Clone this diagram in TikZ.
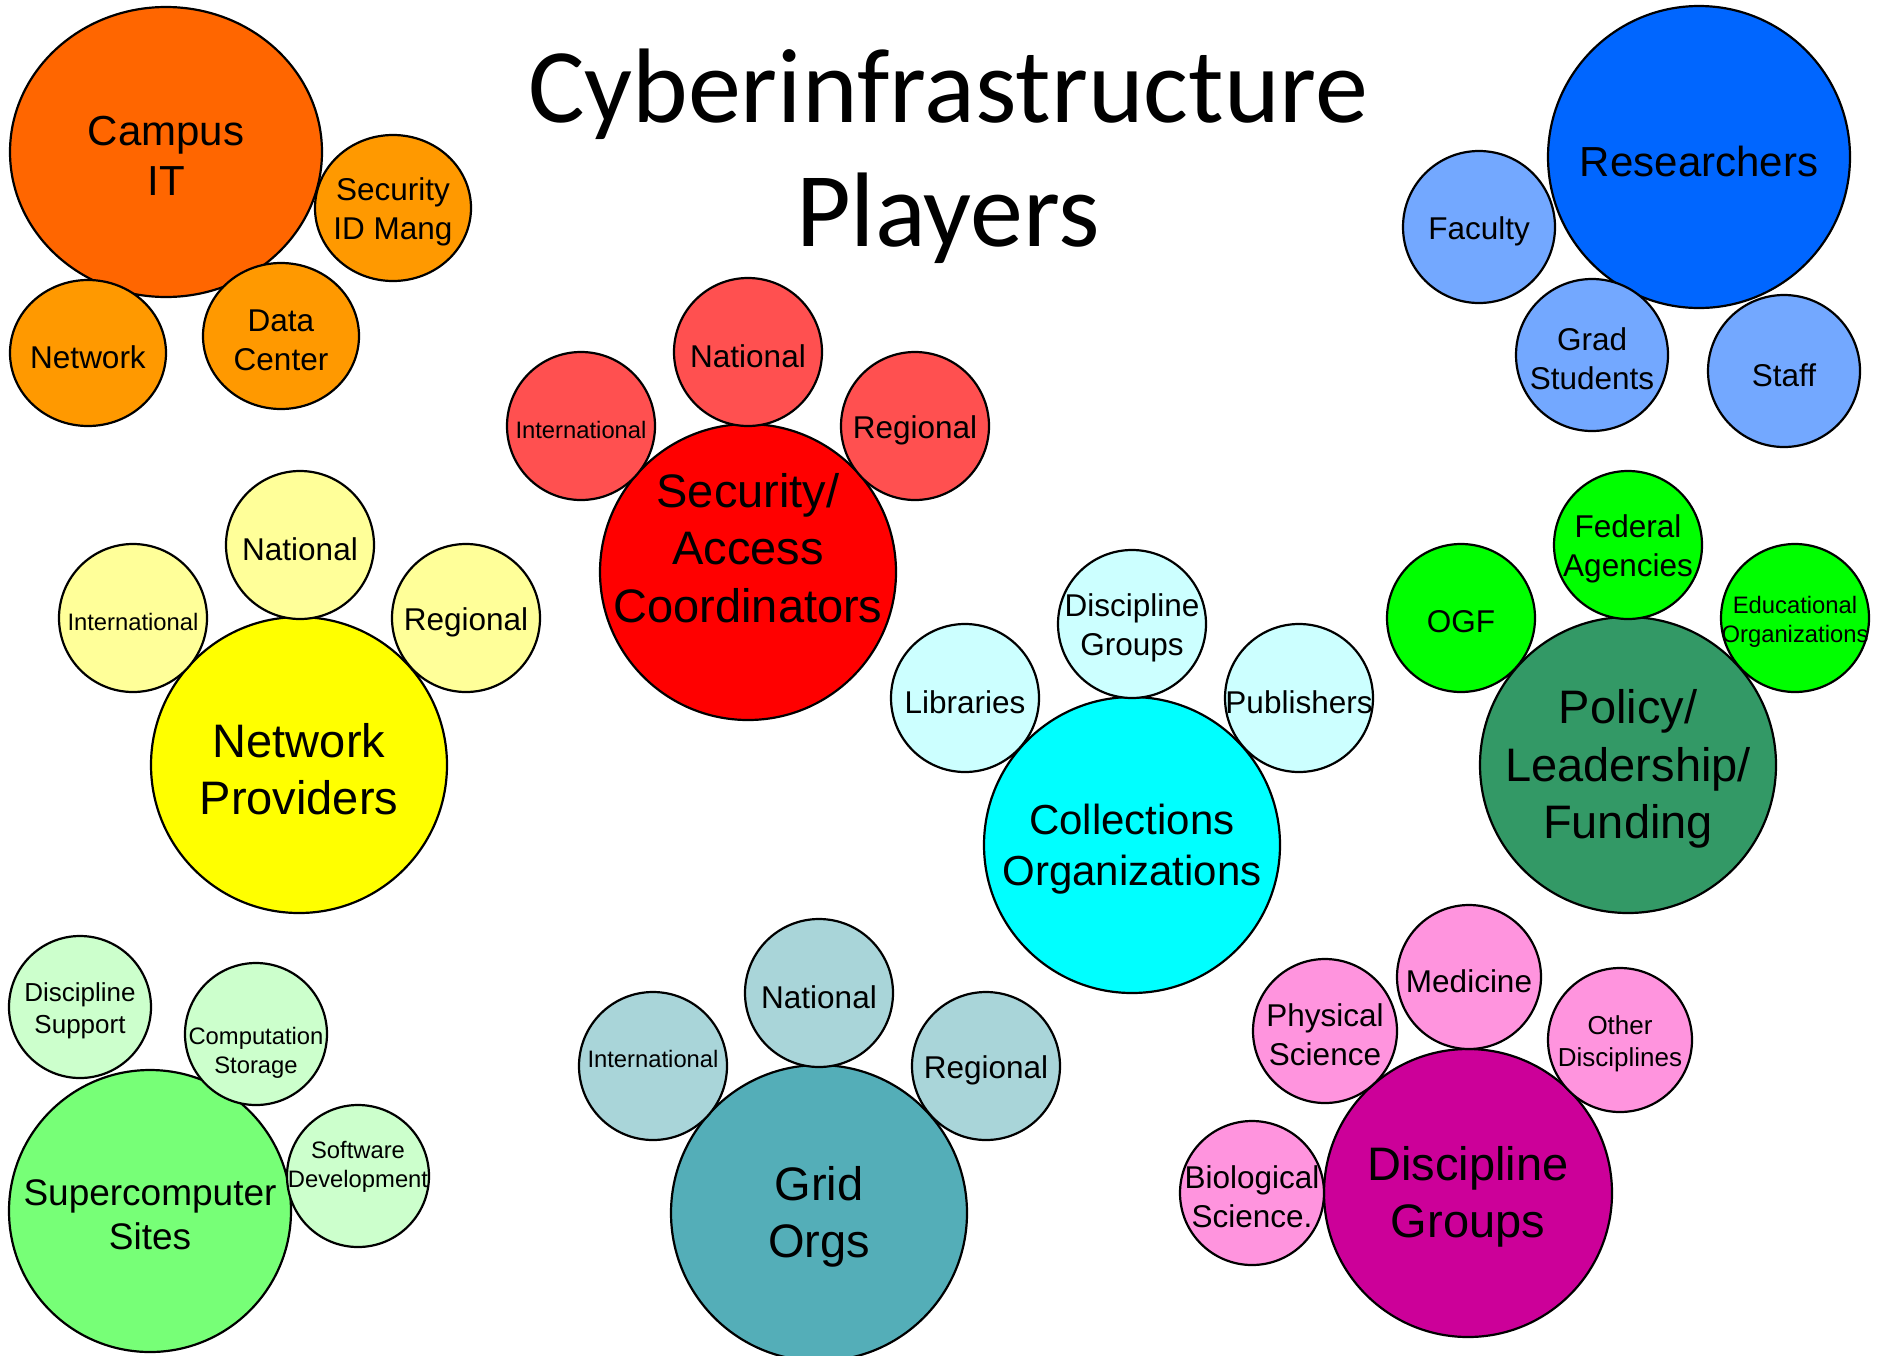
\documentclass[tikz,border=0pt]{standalone}
\usepackage{fontspec}
\setmainfont{Liberation Sans}
\newfontfamily\titlefont{Carlito}
\usetikzlibrary{shapes.geometric}
\definecolor{campusorange}{RGB}{255, 102, 0}
\definecolor{campuslight}{RGB}{255, 153, 0}
\definecolor{resblue}{RGB}{0, 102, 255}
\definecolor{reslight}{RGB}{115, 168, 255}
\definecolor{secred}{RGB}{255, 0, 0}
\definecolor{seclight}{RGB}{255, 80, 80}
\definecolor{netyellow}{RGB}{255, 255, 0}
\definecolor{netlight}{RGB}{255, 255, 153}
\definecolor{colcyan}{RGB}{0, 255, 255}
\definecolor{collight}{RGB}{204, 255, 255}
\definecolor{polgreen}{RGB}{51, 153, 102}
\definecolor{pollight}{RGB}{0, 255, 0}
\definecolor{supgreen}{RGB}{119, 255, 119}
\definecolor{suplight}{RGB}{204, 255, 204}
\definecolor{gridteal}{RGB}{84, 174, 184}
\definecolor{gridlight}{RGB}{169, 213, 217}
\definecolor{discmagenta}{RGB}{204, 0, 153}
\definecolor{disclight}{RGB}{255, 148, 222}

\newcommand{\fsbig}{\fontsize{47}{57.5}\selectfont}
\newcommand{\fsmid}{\fontsize{42}{50.5}\selectfont}
\newcommand{\fssup}{\fontsize{37}{44}\selectfont}
\newcommand{\fssat}{\fontsize{31.5}{39}\selectfont}
\newcommand{\fsdisc}{\fontsize{26}{32}\selectfont}
\newcommand{\fssmall}{\fontsize{23.8}{28.5}\selectfont}

\begin{document}
\begin{tikzpicture}[x=1pt, y=-1pt,
        bubble/.style={circle, draw=black, line width=2.2pt, inner sep=0pt, outer sep=0pt},
        oval/.style={ellipse, draw=black, line width=2.2pt, inner sep=0pt, outer sep=0pt},
        hub/.style={bubble, minimum size=296pt},
        leaf/.style={bubble, minimum size=148pt},
        every label/.style={align=center, inner sep=0pt, yshift=-4pt}]
        \path[fill=white] (0,0) rectangle (1881,1355);
        \useasboundingbox (0,0) rectangle (1881,1355);

        % Title
        \node[font=\titlefont\fontsize{106}{124}\selectfont, align=center] (title) at (948,156)
            {Cyberinfrastructure\\Players};

        % Campus IT
        \node[oval, fill=campusorange, minimum width=312pt, minimum height=290pt,
            label={[font=\fsmid]center:Campus\\IT}] (campus) at (166,152) {};
        \node[oval, fill=campuslight, minimum width=156pt, minimum height=146pt,
            label={[font=\fssat]center:Security\\ID Mang}] (campus-sec) at (393,208) {};
        \node[oval, fill=campuslight, minimum width=156pt, minimum height=146pt,
            label={[font=\fssat]center:Network}] (campus-net) at (88,353) {};
        \node[oval, fill=campuslight, minimum width=156pt, minimum height=146pt,
            label={[font=\fssat]center:Data\\Center}] (campus-dc) at (281,336) {};

        % Researchers
        \node[bubble, fill=resblue, minimum size=302pt,
            label={[font=\fsmid]center:Researchers}] (res) at (1699,157) {};
        \node[bubble, fill=reslight, minimum size=152pt,
            label={[font=\fssat]center:Faculty}] (res-fac) at (1479,227) {};
        \node[bubble, fill=reslight, minimum size=152pt,
            label={[font=\fssat]center:Grad\\Students}] (res-grad) at (1592,355) {};
        \node[bubble, fill=reslight, minimum size=152pt,
            label={[font=\fssat]center:Staff}] (res-staff) at (1784,371) {};

        % Security / Access
        \node[hub, fill=secred,
            label={[font=\fsbig, yshift=28pt]center:Security/\\Access\\Coordinators}] (sec) at (748,572) {};
        \node[leaf, fill=seclight, label={[font=\fssmall]center:International}] (sec-int) at (581,426) {};
        \node[leaf, fill=seclight, label={[font=\fssat]center:National}] (sec-nat) at (748,352) {};
        \node[leaf, fill=seclight, label={[font=\fssat]center:Regional}] (sec-reg) at (915,426) {};

        % Network providers
        \node[hub, fill=netyellow, label={[font=\fsbig]center:Network\\Providers}] (net) at (299,765) {};
        \node[leaf, fill=netlight, label={[font=\fssmall]center:International}] (net-int) at (133,618) {};
        \node[leaf, fill=netlight, label={[font=\fssat]center:National}] (net-nat) at (300,545) {};
        \node[leaf, fill=netlight, label={[font=\fssat]center:Regional}] (net-reg) at (466,618) {};

        % Collections
        \node[hub, fill=colcyan, label={[font=\fsmid]center:Collections\\Organizations}] (col) at (1132,845) {};
        \node[leaf, fill=collight, label={[font=\fssat]center:Libraries}] (col-lib) at (965,698) {};
        \node[leaf, fill=collight, label={[font=\fssat]center:Discipline\\Groups}] (col-disc) at (1132,624) {};
        \node[leaf, fill=collight, label={[font=\fssat]center:Publishers}] (col-pub) at (1299,698) {};

        % Policy
        \node[hub, fill=polgreen, label={[font=\fsbig]center:Policy/\\Leadership/\\Funding}] (pol) at (1628,765) {};
        \node[leaf, fill=pollight, label={[font=\fssat]center:OGF}] (pol-ogf) at (1461,618) {};
        \node[leaf, fill=pollight, label={[font=\fssat]center:Federal\\Agencies}] (pol-fed) at (1628,545) {};
        \node[leaf, fill=pollight, label={[font=\fssmall]center:Educational\\Organizations}] (pol-edu) at (1795,618) {};

        % Supercomputer sites
        \node[bubble, fill=supgreen, minimum size=282pt,
            label={[font=\fssup]center:Supercomputer\\Sites}] (sup) at (150,1211) {};
        \node[bubble, fill=suplight, minimum size=142pt,
            label={[font=\fsdisc]center:Discipline\\Support}] (sup-disc) at (80,1007) {};
        \node[bubble, fill=suplight, minimum size=142pt,
            label={[font=\fssmall, yshift=-15pt]center:Computation\\Storage}] (sup-comp) at (256,1034) {};
        \node[bubble, fill=suplight, minimum size=142pt,
            label={[font=\fssmall, yshift=13pt]center:Software\\Development}] (sup-soft) at (358,1176) {};

        % Grid orgs
        \node[hub, fill=gridteal, label={[font=\fsbig]center:Grid\\Orgs}] (grid) at (819,1213) {};
        \node[leaf, fill=gridlight, label={[font=\fssmall, yshift=11pt]center:International}] (grid-int) at (653,1066) {};
        \node[leaf, fill=gridlight, label={[font=\fssat]center:National}] (grid-nat) at (819,993) {};
        \node[leaf, fill=gridlight, label={[font=\fssat]center:Regional}] (grid-reg) at (986,1066) {};

        % Discipline groups
        \node[bubble, fill=discmagenta, minimum size=288pt,
            label={[font=\fsbig]center:Discipline\\Groups}] (disc) at (1468,1193) {};
        \node[bubble, fill=disclight, minimum size=144pt,
            label={[font=\fssat]center:Physical\\Science}] (disc-phys) at (1325,1031) {};
        \node[bubble, fill=disclight, minimum size=144pt,
            label={[font=\fssat]center:Medicine}] (disc-med) at (1469,977) {};
        \node[bubble, fill=disclight, minimum size=144pt,
            label={[font=\fsdisc]center:Other\\Disciplines}] (disc-other) at (1620,1040) {};
        \node[bubble, fill=disclight, minimum size=144pt,
            label={[font=\fssat]center:Biological\\Science.}] (disc-bio) at (1252,1193) {};
    \end{tikzpicture}
\end{document}
